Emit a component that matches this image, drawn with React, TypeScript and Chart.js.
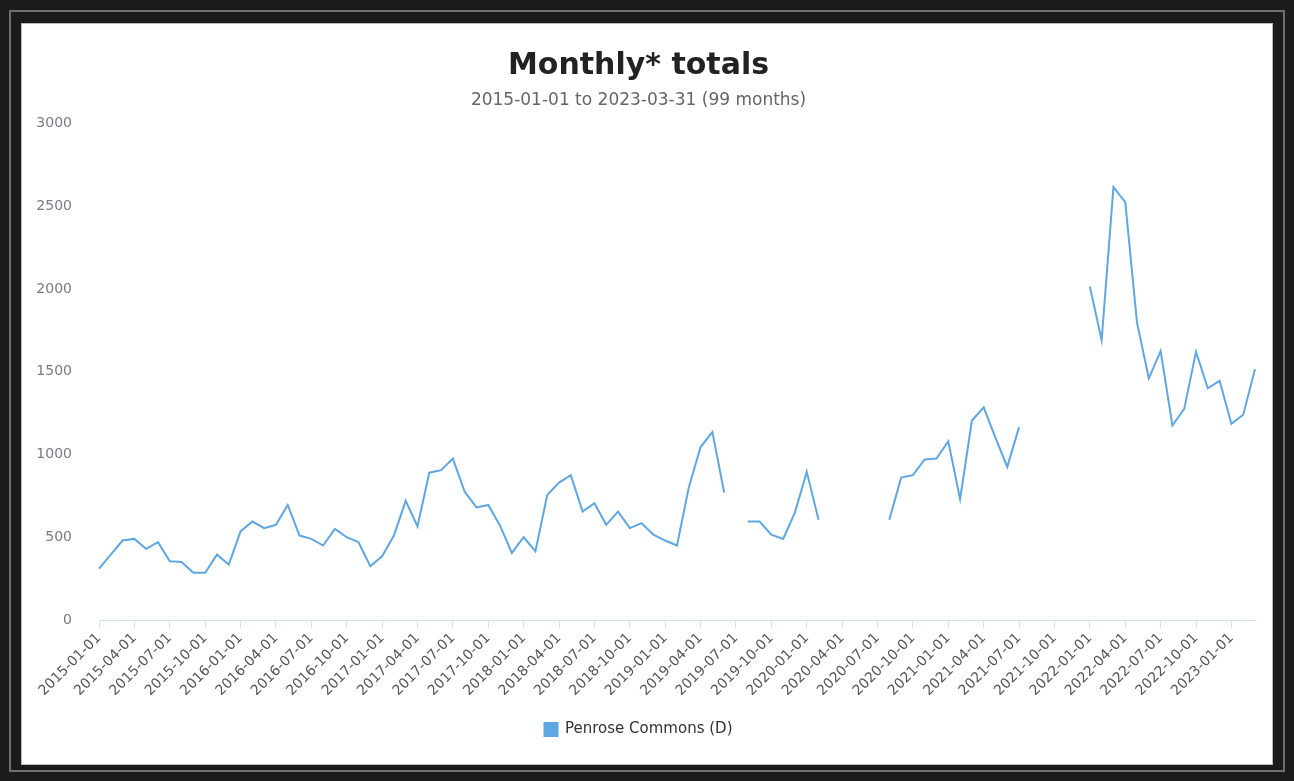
import React, { useEffect, useRef } from "react";
import { Chart, registerables } from "chart.js";

Chart.register(...registerables);

// Month categories 2015-01-01 .. 2023-03-01 (99 months)
const START_YEAR = 2015;
const MONTH_COUNT = 99;
const monthLabels: string[] = [];
for (let k = 0; k < MONTH_COUNT; k++) {
  const y = START_YEAR + Math.floor(k / 12);
  const m = (k % 12) + 1;
  monthLabels.push(`${y}-${m < 10 ? "0" + m : m}-01`);
}

// Monthly totals, Penrose Commons (D) — null = no data
const values2015 = [310, 395, 480, 490, 430, 470, 355, 350, 285, 285, 395, 335];
const values2016 = [535, 595, 555, 575, 695, 510, 490, 450, 550, 500, 470, 325];
const values2017 = [385, 510, 720, 565, 890, 905, 975, 775, 680, 695, 570, 405];
const values2018 = [500, 415, 755, 830, 875, 655, 705, 575, 655, 555, 585, 515];
const values2019 = [480, 450, 800, 1045, 1135, 770, null, 595, 595, 515, 490, 650];
const values2020 = [895, 605, null, null, null, null, null, 605, 860, 875, 970, 975];
const values2021 = [1080, 730, 1205, 1285, 1100, 925, 1165, null, null, null, null, null];
const values2022 = [2015, 1690, 2615, 2525, 1795, 1460, 1625, 1175, 1275, 1620, 1400, 1445];
const values2023 = [1185, 1240, 1515];

const seriesValues: (number | null)[] = [
  ...values2015,
  ...values2016,
  ...values2017,
  ...values2018,
  ...values2019,
  ...values2020,
  ...values2021,
  ...values2022,
  ...values2023,
];

const TITLE = "Monthly* totals";
const SUBTITLE = "2015-01-01 to 2023-03-31 (99 months)";
const SERIES_NAME = "Penrose Commons (D)";
const LINE_COLOR = "#5ea7e2";

export default function App() {
  const ref = useRef<HTMLCanvasElement>(null);

  useEffect(() => {
    if (!ref.current) return;
    Chart.defaults.font.family = "'DejaVu Sans', 'Open Sans', sans-serif";
    const chart = new Chart(ref.current, {
      type: "line",
      data: {
        labels: monthLabels,
        datasets: [
          {
            label: SERIES_NAME,
            data: seriesValues,
            borderColor: LINE_COLOR,
            backgroundColor: LINE_COLOR,
            borderWidth: 2,
            pointRadius: 0,
            pointHoverRadius: 0,
            tension: 0,
            spanGaps: false,
            fill: false,
          },
        ],
      },
      options: {
        responsive: false,
        animation: false,
        layout: { padding: { left: 0, right: 17, top: 0, bottom: 17 } },
        plugins: {
          title: {
            display: true,
            text: TITLE,
            color: "#222",
            font: { size: 30, weight: "bold" },
            padding: { top: 24, bottom: 0 },
          },
          subtitle: {
            display: true,
            text: SUBTITLE,
            color: "#666",
            font: { size: 17 },
            padding: { top: 6, bottom: 13 },
          },
          legend: {
            position: "bottom",
            labels: {
              boxWidth: 13,
              boxHeight: 13,
              color: "#333",
              font: { size: 15 },
              padding: 10,
            },
          },
          tooltip: { enabled: false },
        },
        scales: {
          x: {
            type: "category",
            offset: false,
            grid: {
              display: true,
              drawOnChartArea: false,
              drawTicks: true,
              tickLength: 8,
              color: "#d3e4f0",
            },
            border: { display: true, color: "#cfe2f0" },
            ticks: {
              autoSkip: false,
              maxRotation: 45,
              minRotation: 45,
              color: "#555",
              font: { size: 14 },
              padding: 2,
              callback: (_v: any, i: number) => (i % 3 === 0 ? monthLabels[i] : null),
            },
            afterFit: (s: any) => {
              s.height = 92;
            },
          },
          y: {
            min: 0,
            max: 3000,
            grid: { display: false, drawTicks: false },
            border: { display: false },
            ticks: {
              stepSize: 500,
              color: "#7a7a88",
              font: { size: 14 },
              padding: 27,
              callback: (v: any) => String(v),
            },
            afterFit: (s: any) => {
              s.width = 77;
            },
          },
        },
      },
    });
    return () => chart.destroy();
  }, []);

  return (
    <div
      style={{
        position: "fixed",
        left: 0,
        top: 0,
        width: 1294,
        height: 781,
        background: "#1b1b1b",
      }}
    >
      <div
        style={{
          position: "absolute",
          left: 9,
          top: 10,
          width: 1276,
          height: 762,
          boxSizing: "border-box",
          border: "2px solid #6f6f6f",
        }}
      />
      <div
        style={{
          position: "absolute",
          left: 22,
          top: 24,
          width: 1250,
          height: 740,
          background: "#ffffff",
          boxShadow: "0 0 0 1px #b8b8b8",
        }}
      >
        <canvas ref={ref} width={1250} height={740} style={{ display: "block" }} />
      </div>
    </div>
  );
}
